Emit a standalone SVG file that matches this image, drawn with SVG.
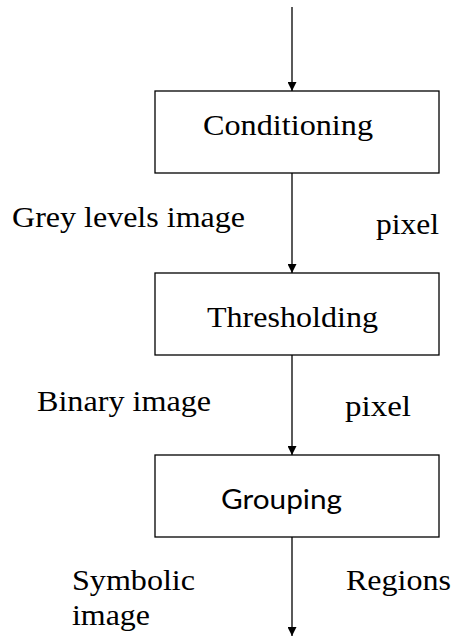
<svg xmlns="http://www.w3.org/2000/svg" width="453" height="637" viewBox="0 0 453 637">
<style>
.box{fill:#fff;stroke:#000;stroke-width:1.3}
.t{font-family:"Liberation Serif","Times New Roman",serif;font-size:29px;fill:#000}
.s{font-family:Lato,"Liberation Sans",sans-serif;font-size:27px;fill:#000}
.c{stroke:#000;stroke-width:1.3;fill:none;marker-end:url(#ah)}
</style>
<defs>
<marker id="ah" viewBox="0 0 10 10" refX="10" refY="5" markerWidth="9" markerHeight="9" markerUnits="userSpaceOnUse" orient="auto">
<path d="M0,0 L10,5 L0,10 Z" fill="#000"/>
</marker>
</defs>
<rect width="453" height="637" fill="#fff"/>
<g id="connectors">
<line class="c" x1="292" y1="7" x2="292" y2="91"/>
<line class="c" x1="292" y1="173" x2="292" y2="273"/>
<line class="c" x1="292" y1="355" x2="292" y2="455"/>
<line class="c" x1="292" y1="537" x2="292" y2="636"/>
</g>
<g id="conditioning">
<rect class="box" x="155" y="91" width="284" height="82"/>
<text class="t" x="203" y="135" textLength="170" lengthAdjust="spacingAndGlyphs">Conditioning</text>
</g>
<g id="thresholding">
<rect class="box" x="155" y="273" width="284" height="82"/>
<text class="t" x="207" y="327" textLength="171" lengthAdjust="spacingAndGlyphs">Thresholding</text>
</g>
<g id="grouping">
<rect class="box" x="155" y="455" width="284" height="82"/>
<text class="s" x="221" y="509" textLength="121" lengthAdjust="spacingAndGlyphs">Grouping</text>
</g>
<g id="labels">
<text class="t" x="12" y="227" textLength="233" lengthAdjust="spacingAndGlyphs">Grey levels image</text>
<text class="t" x="376" y="234" textLength="63" lengthAdjust="spacingAndGlyphs">pixel</text>
<text class="t" x="37" y="411" textLength="174" lengthAdjust="spacingAndGlyphs">Binary image</text>
<text class="t" x="345" y="416" textLength="66" lengthAdjust="spacingAndGlyphs">pixel</text>
<text class="t" x="72" y="590" textLength="123" lengthAdjust="spacingAndGlyphs">Symbolic</text>
<text class="t" x="72" y="625" textLength="78" lengthAdjust="spacingAndGlyphs">image</text>
<text class="t" x="346" y="590" textLength="105" lengthAdjust="spacingAndGlyphs">Regions</text>
</g>
</svg>
